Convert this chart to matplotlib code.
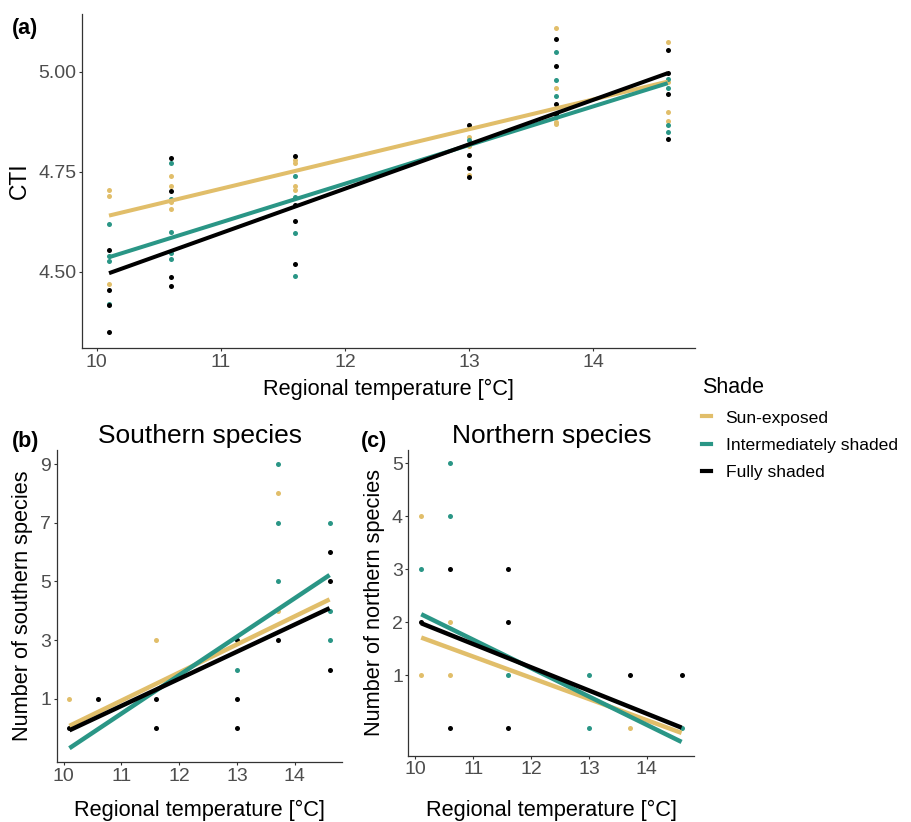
import matplotlib
matplotlib.use('Agg')
import matplotlib.pyplot as plt
from matplotlib.lines import Line2D
import numpy as np

plt.rcParams['font.family'] = ['Liberation Sans', 'DejaVu Sans']

# shade groups
groups = ['Sun-exposed', 'Intermediately shaded', 'Fully shaded']
group_colors = ['#E1BE6A', '#2A9686', '#000000']

# sites (regional temperature)
temps = [10.1, 10.6, 11.6, 13.0, 13.7, 14.6]

# (a) CTI per site, one list per temperature
cti_sun = [[4.704, 4.688, 4.469], [4.738, 4.713, 4.675, 4.657],
           [4.779, 4.771, 4.713, 4.704], [4.836, 4.814, 4.741],
           [5.108, 4.959, 4.874, 4.868], [5.073, 4.974, 4.900, 4.876]]
cti_int = [[4.619, 4.540, 4.526, 4.420], [4.771, 4.681, 4.600, 4.546, 4.531],
           [4.738, 4.686, 4.596, 4.488], [4.828],
           [5.049, 4.978, 4.940, 4.886], [4.981, 4.958, 4.866, 4.849]]
cti_full = [[4.554, 4.454, 4.416, 4.348], [4.783, 4.702, 4.486, 4.464],
            [4.789, 4.667, 4.627, 4.520], [4.867, 4.791, 4.760, 4.736],
            [5.081, 5.013, 4.918, 4.894], [5.054, 4.996, 4.943, 4.831]]

# fitted lines (value at first and last temperature)
fit_x = [10.1, 14.6]
cti_fit = [[4.640, 4.975], [4.536, 4.971], [4.496, 4.996]]

# (b) southern species counts
south_sun_x = [10.1, 11.6, 13.7, 13.7]
south_sun_y = [1, 3, 8, 4]
south_int_x = [13.0, 13.7, 13.7, 13.7, 14.6, 14.6, 14.6]
south_int_y = [2, 9, 7, 5, 7, 4, 3]
south_full_x = [10.1, 10.6, 11.6, 11.6, 13.0, 13.0, 13.0, 13.7, 14.6, 14.6, 14.6]
south_full_y = [0, 1, 1, 0, 3, 1, 0, 3, 6, 5, 2]
south_fit = [[0.08, 4.39], [-0.68, 5.22], [-0.07, 4.09]]

# (c) northern species counts
north_sun_x = [10.1, 10.1, 10.6, 10.6, 13.7]
north_sun_y = [4, 1, 2, 1, 0]
north_int_x = [10.1, 10.6, 10.6, 11.6, 13.0, 13.0, 14.6]
north_int_y = [3, 5, 4, 1, 1, 0, 0]
north_full_x = [10.1, 10.6, 10.6, 11.6, 11.6, 11.6, 13.7, 14.6]
north_full_y = [2, 3, 0, 3, 2, 0, 1, 1]
north_fit = [[1.71, -0.09], [2.15, -0.26], [1.98, 0.01]]

W, H = 912, 822
fig = plt.figure(figsize=(W / 100, H / 100), dpi=100)


def box(l, r, t, b):
    return [l / W, 1 - b / H, (r - l) / W, (b - t) / H]


ax_a = fig.add_axes(box(81.7, 695, 14, 348))
ax_b = fig.add_axes(box(56.7, 342.3, 450, 762.3))
ax_c = fig.add_axes(box(408.5, 694.3, 450, 755.7))

AXC = '#333333'
LAB = 15.7


def style(ax):
    for s in ['top', 'right']:
        ax.spines[s].set_visible(False)
    for s in ['left', 'bottom']:
        ax.spines[s].set_color(AXC)
        ax.spines[s].set_linewidth(0.9)
    ax.tick_params(length=2.5, width=0.8, color=AXC, labelcolor='#4D4D4D',
                   labelsize=14, pad=1.5)
    ax.set_xlim(9.88, 14.82)
    ax.set_xticks([10, 11, 12, 13, 14])


# panel (a)
for vals, col in zip([cti_sun, cti_int, cti_full], group_colors):
    for t, v in zip(temps, vals):
        ax_a.scatter([t] * len(v), v, s=13, color=col, lw=0, zorder=2)
for fit, col in zip(cti_fit, group_colors):
    ax_a.plot(fit_x, fit, color=col, lw=2.9, solid_capstyle='butt', zorder=3)
style(ax_a)
ax_a.set_ylim(4.309, 5.144)
ax_a.set_yticks([4.5, 4.75, 5.0])
ax_a.set_yticklabels(['4.50', '4.75', '5.00'])
ax_a.set_ylabel('CTI', fontsize=16.5, labelpad=5)
ax_a.set_xlabel('Regional temperature [°C]', fontsize=LAB, labelpad=6)

# panel (b)
south_pts = [(south_sun_x, south_sun_y), (south_int_x, south_int_y),
             (south_full_x, south_full_y)]
for (xs, ys), col in zip(south_pts, group_colors):
    ax_b.scatter(xs, ys, s=13, color=col, lw=0, zorder=2)
for fit, col in zip(south_fit, group_colors):
    ax_b.plot(fit_x, fit, color=col, lw=3.2, solid_capstyle='butt', zorder=3)
style(ax_b)
ax_b.set_ylim(-1.16, 9.48)
ax_b.set_yticks([1, 3, 5, 7, 9])
ax_b.set_ylabel('Number of southern species', fontsize=LAB, labelpad=5)
ax_b.set_xlabel('Regional temperature [°C]', fontsize=LAB, labelpad=10.5)
ax_b.set_title('Southern species', fontsize=19, pad=5)

# panel (c)
north_pts = [(north_sun_x, north_sun_y), (north_int_x, north_int_y),
             (north_full_x, north_full_y)]
for (xs, ys), col in zip(north_pts, group_colors):
    ax_c.scatter(xs, ys, s=13, color=col, lw=0, zorder=2)
for fit, col in zip(north_fit, group_colors):
    ax_c.plot(fit_x, fit, color=col, lw=3.2, solid_capstyle='butt', zorder=3)
style(ax_c)
ax_c.set_ylim(-0.52, 5.25)
ax_c.set_yticks([1, 2, 3, 4, 5])
ax_c.set_ylabel('Number of northern species', fontsize=LAB, labelpad=5)
ax_c.set_xlabel('Regional temperature [°C]', fontsize=LAB, labelpad=15.5)
ax_c.set_title('Northern species', fontsize=19, pad=5)

# panel letters
fig.text(12 / W, 1 - 34 / H, '(a)', fontsize=15.5, weight='bold')
fig.text(12 / W, 1 - 447 / H, '(b)', fontsize=15.5, weight='bold')
fig.text(361 / W, 1 - 447 / H, '(c)', fontsize=15.5, weight='bold')

# legend
handles = [Line2D([0], [0], color=c, lw=3) for c in group_colors]
fig.legend(handles, groups, loc='upper left',
           bbox_to_anchor=(702 / W, 1 - 377 / H), frameon=False,
           title='Shade', title_fontsize=15.5, fontsize=12.6, alignment='left',
           handlelength=0.5, handletextpad=0.85, labelspacing=0.7,
           borderpad=0, borderaxespad=0)

fig.savefig('out.png', dpi=100, facecolor='white')
